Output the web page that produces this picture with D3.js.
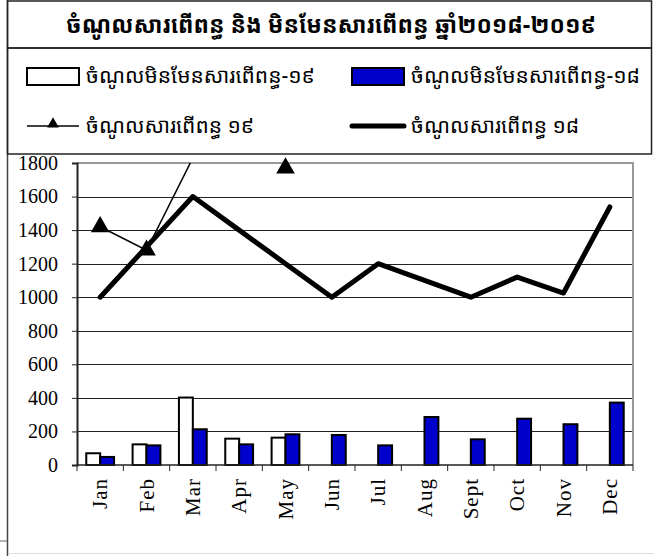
<!DOCTYPE html>
<html>
<head>
<meta charset="utf-8">
<script src="https://cdn.jsdelivr.net/npm/d3@7"></script>
<style>
  body { margin: 0; background: #fff; }
  svg text.ylab { font-family: "Liberation Serif", "Times New Roman", serif; font-size: 20px; }
</style>
</head>
<body>
<div id="chart"></div>
<script>
// chart values
const months = ["Jan", "Feb", "Mar", "Apr", "May", "Jun", "Jul", "Aug", "Sept", "Oct", "Nov", "Dec"];
const nonTax19 = [70, 123, 402, 157, 163, null, null, null, null, null, null, null];
const nonTax18 = [48, 117, 213, 123, 183, 179, 117, 286, 153, 276, 243, 372];
const tax19 = [1420, 1280, 1830, null, 1770, null, null, null, null, null, null, null];
const tax18 = [1000, 1300, 1600, 1400, 1200, 1000, 1200, 1100, 1000, 1120, 1025, 1538];
const yTicks = [0, 200, 400, 600, 800, 1000, 1200, 1400, 1600, 1800];

const titleText = "ចំណូលសារពើពន្ធ និង មិនមែនសារពើពន្ធ ឆ្នាំ២០១៨-២០១៩";
const legendNames = ["ចំណូលមិនមែនសារពើពន្ធ-១៩", "ចំណូលមិនមែនសារពើពន្ធ-១៨", "ចំណូលសារពើពន្ធ ១៩", "ចំណូលសារពើពន្ធ ១៨"];

const khFont = "'Khmer OS', 'Noto Sans Khmer', 'Noto Serif Khmer', sans-serif";
const numFont = "'Liberation Serif', 'Times New Roman', 'DejaVu Serif', serif";

const W = 654, H = 556;
const plot = {left: 77, right: 633, top: 163, bottom: 465};

const svg = d3.select("#chart")
    .append("svg")
    .attr("width", W)
    .attr("height", H);

//Frame boxes round the title and the legend
svg.append("line").attr("x1", 7.5).attr("x2", 7.5).attr("y1", 0).attr("y2", H)
    .attr("stroke", "#444").attr("stroke-width", 1.5);
svg.append("rect").attr("x", 7.5).attr("y", 1).attr("width", 644).attr("height", 47)
    .attr("fill", "none").attr("stroke", "#222").attr("stroke-width", 1.5);
svg.append("rect").attr("x", 7.5).attr("y", 48).attr("width", 644).attr("height", 106)
    .attr("fill", "none").attr("stroke", "#222").attr("stroke-width", 1.5);
svg.append("line").attr("x1", 0).attr("x2", 7).attr("y1", 541).attr("y2", 541)
    .attr("stroke", "#666");
svg.append("line").attr("x1", 8).attr("x2", W).attr("y1", 553.5).attr("y2", 553.5)
    .attr("stroke", "#ddd");

//Title
svg.append("text")
    .attr("x", 331).attr("y", 33)
    .attr("text-anchor", "middle")
    .style("font-family", khFont)
    .style("font-size", "23px")
    .style("font-weight", "bold")
    .text(titleText);

//Scales
const xScale = d3.scaleBand().domain(months).range([plot.left, plot.right]).padding(0);
const yScale = d3.scaleLinear().domain([0, 1800]).range([plot.bottom, plot.top]);
const bw = xScale.bandwidth();
const barW = bw * 0.3;
const cx = m => xScale(m) + bw / 2;

//Grid lines
svg.append("g")
    .selectAll("line")
    .data(yTicks.filter(v => v > 0 && v < 1800))
    .join("line")
    .attr("x1", plot.left).attr("x2", plot.right)
    .attr("y1", d => Math.round(yScale(d)) + 0.5).attr("y2", d => Math.round(yScale(d)) + 0.5)
    .attr("stroke", "#222").attr("stroke-width", 1.2);

//Plot area top and right edges in grey
svg.append("path")
    .attr("d", `M${plot.left},${plot.top}H${plot.right}V${plot.bottom}`)
    .attr("fill", "none").attr("stroke", "#999").attr("stroke-width", 2);

//Y axis
const yAxis = svg.append("g")
    .attr("transform", `translate(${plot.left},0)`)
    .call(d3.axisLeft(yScale).tickValues(yTicks).tickSize(5).tickPadding(14).tickFormat(d3.format("d")))
    .attr("font-family", numFont)
    .attr("font-size", 20);
yAxis.select(".domain").attr("stroke", "#222").attr("stroke-width", 2);
yAxis.selectAll(".tick line").attr("stroke", "#222");
yAxis.selectAll(".tick text").attr("class", "ylab").attr("fill", "#000");

//Bars for the non-tax series
const bars = svg.append("g");
bars.selectAll(".b19")
    .data(months.map((m, i) => ({m, v: nonTax19[i]})).filter(d => d.v != null))
    .join("rect")
    .attr("x", d => cx(d.m) - barW)
    .attr("y", d => yScale(d.v))
    .attr("width", barW)
    .attr("height", d => yScale(0) - yScale(d.v))
    .attr("fill", "#fff").attr("stroke", "#000").attr("stroke-width", 2);
bars.selectAll(".b18")
    .data(months.map((m, i) => ({m, v: nonTax18[i]})).filter(d => d.v != null))
    .join("rect")
    .attr("x", d => cx(d.m))
    .attr("y", d => yScale(d.v))
    .attr("width", barW)
    .attr("height", d => yScale(0) - yScale(d.v))
    .attr("fill", "#0000cc").attr("stroke", "#000").attr("stroke-width", 2);

//X axis: baseline, ticks between months, rotated labels
svg.append("line")
    .attr("x1", plot.left).attr("x2", plot.right)
    .attr("y1", plot.bottom).attr("y2", plot.bottom)
    .attr("stroke", "#222").attr("stroke-width", 1.5);
svg.append("g")
    .selectAll("line")
    .data(months.concat(["end"]))
    .join("line")
    .attr("x1", d => d == "end" ? plot.right : xScale(d))
    .attr("x2", d => d == "end" ? plot.right : xScale(d))
    .attr("y1", plot.bottom).attr("y2", plot.bottom + 6)
    .attr("stroke", "#222");
svg.append("g")
    .selectAll("text")
    .data(months)
    .join("text")
    .attr("transform", d => `translate(${cx(d) + 7},${plot.bottom + 13}) rotate(-90)`)
    .attr("text-anchor", "end")
    .style("font-family", numFont)
    .style("font-size", "21px")
    .style("letter-spacing", "1px")
    .text(d => d);

//Lines for the tax series, clipped to the plot area
svg.append("clipPath").attr("id", "plotClip")
    .append("rect")
    .attr("x", plot.left).attr("y", plot.top)
    .attr("width", plot.right - plot.left).attr("height", plot.bottom - plot.top);

const line = d3.line()
    .defined(d => d.v != null)
    .x(d => cx(d.m))
    .y(d => yScale(d.v));

svg.append("path")
    .datum(months.map((m, i) => ({m, v: tax18[i]})))
    .attr("clip-path", "url(#plotClip)")
    .attr("fill", "none").attr("stroke", "#000").attr("stroke-width", 5)
    .attr("stroke-linejoin", "round").attr("stroke-linecap", "round")
    .attr("d", line);

svg.append("path")
    .datum(months.map((m, i) => ({m, v: tax19[i]})))
    .attr("clip-path", "url(#plotClip)")
    .attr("fill", "none").attr("stroke", "#000").attr("stroke-width", 1.5)
    .attr("d", line);

//Triangle markers, only where the value is inside the axis range
svg.append("g")
    .selectAll("path")
    .data(months.map((m, i) => ({m, v: tax19[i]})).filter(d => d.v != null && d.v <= 1800))
    .join("path")
    .attr("transform", d => `translate(${cx(d.m)},${yScale(d.v)})`)
    .attr("d", d3.symbol(d3.symbolTriangle, 150))
    .attr("fill", "#000");

//Legend
const legend = svg.append("g");
const lx = [27, 352];
const ly = [76, 126];
legend.append("rect").attr("x", lx[0]).attr("y", ly[0] - 8).attr("width", 52).attr("height", 17)
    .attr("fill", "#fff").attr("stroke", "#000").attr("stroke-width", 2);
legend.append("rect").attr("x", lx[1]).attr("y", ly[0] - 8).attr("width", 52).attr("height", 17)
    .attr("fill", "#0000cc").attr("stroke", "#000").attr("stroke-width", 2);
legend.append("line").attr("x1", lx[0]).attr("x2", lx[0] + 52).attr("y1", ly[1]).attr("y2", ly[1])
    .attr("stroke", "#000").attr("stroke-width", 1.5);
legend.append("path")
    .attr("transform", `translate(${lx[0] + 26},${ly[1] - 2})`)
    .attr("d", d3.symbol(d3.symbolTriangle, 60))
    .attr("fill", "#000");
legend.append("line").attr("x1", lx[1]).attr("x2", lx[1] + 52).attr("y1", ly[1]).attr("y2", ly[1])
    .attr("stroke", "#000").attr("stroke-width", 5).attr("stroke-linecap", "round");

legend.selectAll("text")
    .data(legendNames)
    .join("text")
    .attr("x", (d, i) => lx[i % 2] + 59)
    .attr("y", (d, i) => ly[Math.floor(i / 2)] + 7)
    .style("font-family", khFont)
    .style("font-size", "21px")
    .text(d => d);
</script>
</body>
</html>
